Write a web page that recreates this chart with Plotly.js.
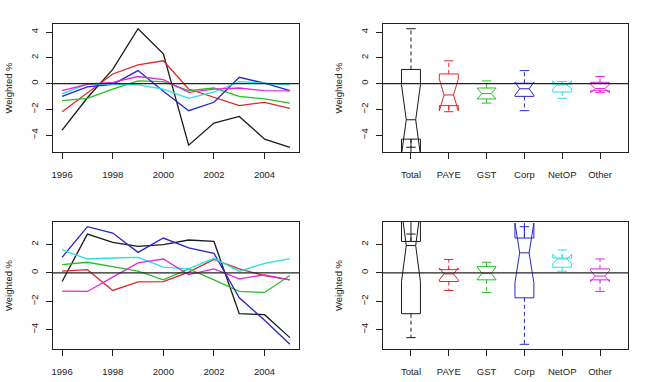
<!DOCTYPE html>
<html>
<head>
<meta charset="utf-8">
<script src="https://cdn.plot.ly/plotly-3.0.1.min.js"></script>
<style>
  html, body { margin: 0; padding: 0; background: #fff; }
  #chart { width: 655px; height: 382px; }
</style>
</head>
<body>
<div id="chart"></div>
<script>
// Years on the line-chart x axis
const years = [1996, 1997, 1998, 1999, 2000, 2001, 2002, 2003, 2004, 2005];
const seriesNames = ['Total', 'PAYE', 'GST', 'Corp', 'NetOP', 'Other'];
const seriesColors = ['#1a1a1a', '#e0262b', '#22c022', '#2626cc', '#26e2e2', '#e026e0'];
const yearTicks = [1996, 1998, 2000, 2002, 2004];

// First period (top row), weighted %
const topTotal = [-3.61, -1.10, 1.10, 4.26, 2.31, -4.78, -3.06, -2.55, -4.31, -4.94];
const topPAYE  = [-2.18, -0.70, 0.75, 1.45, 1.77, -0.42, -1.06, -1.71, -1.45, -1.92];
const topGST   = [-1.32, -1.14, -0.42, 0.21, 0.16, -0.55, -0.34, -0.99, -1.19, -1.51];
const topCorp  = [-0.99, -0.25, -0.05, 1.01, -0.60, -2.10, -1.45, 0.49, 0.03, -0.55];
const topNetOP = [-0.80, -0.05, -0.03, -0.10, -0.42, -1.14, -0.65, 0.16, 0.03, -0.10];
const topOther = [-0.55, -0.05, 0.10, 0.55, 0.31, -0.68, -0.42, -0.34, -0.55, -0.57];

// Second period (bottom row), weighted %
const botTotal = [-0.61, 2.74, 2.15, 1.87, 1.99, 2.32, 2.22, -2.88, -2.95, -4.57];
const botPAYE  = [0.12, 0.23, -1.24, -0.63, -0.61, 0.05, 0.95, 0.28, -0.19, -0.49];
const botGST   = [0.59, 0.75, 0.44, 0.12, -0.49, 0.28, -0.49, -1.31, -1.38, -0.19];
const botCorp  = [1.10, 3.26, 2.81, 1.45, 2.46, 1.76, 1.38, -1.76, -3.35, -5.04];
const botNetOP = [1.62, 0.98, 1.05, 1.10, 0.40, 0.28, 1.03, 0.12, 0.68, 1.00];
const botOther = [-1.29, -1.31, -0.30, 0.70, 0.98, -0.12, 0.28, -0.42, -0.14, -0.49];

const topRows = [topTotal, topPAYE, topGST, topCorp, topNetOP, topOther];
const botRows = [botTotal, botPAYE, botGST, botCorp, botNetOP, botOther];

const FONT = 'Liberation Sans, Arial, Helvetica, sans-serif';
const INK = '#222';

// Axis range padded by 4% on each side
function padRange(lo, hi) {
  const d = (hi - lo) * 0.04;
  return [lo - d, hi + d];
}
function dataRange(rows) {
  let lo = Infinity, hi = -Infinity;
  rows.forEach(r => r.forEach(v => { lo = Math.min(lo, v); hi = Math.max(hi, v); }));
  return padRange(lo, hi);
}

// Tukey five-number summary
function fivenum(v) {
  const x = v.slice().sort((a, b) => a - b);
  const n = x.length;
  const n4 = Math.floor((n + 3) / 2) / 2;
  const d = [1, n4, (n + 1) / 2, n + 1 - n4, n];
  return d.map(k => 0.5 * (x[Math.floor(k) - 1] + x[Math.ceil(k) - 1]));
}

const traces = [];
const shapes = [];

function addLines(rows, xa, ya) {
  rows.forEach((r, i) => {
    traces.push({
      type: 'scatter', mode: 'lines', x: years, y: r,
      line: { color: seriesColors[i], width: 1.3 },
      xaxis: xa, yaxis: ya, showlegend: false, hoverinfo: 'skip'
    });
  });
}

function addBoxes(rows, xa, ya) {
  rows.forEach((r, i) => {
    const pos = i + 1;
    const s = fivenum(r);
    const iqr = s[3] - s[1];
    const inside = r.filter(v => v >= s[1] - 1.5 * iqr && v <= s[3] + 1.5 * iqr);
    const lo = Math.min(...inside);
    const hi = Math.max(...inside);
    const col = seriesColors[i];
    // notched box; whiskers are drawn separately as dashed segments
    traces.push({
      type: 'box', x: [pos], q1: [s[1]], median: [s[2]], q3: [s[3]],
      lowerfence: [s[1]], upperfence: [s[3]],
      notchspan: [1.58 * iqr / Math.sqrt(r.length)],
      notched: true, notchwidth: 0.25, width: 0.5, whiskerwidth: 0,
      boxpoints: false, line: { color: col, width: 1 },
      fillcolor: 'rgba(0,0,0,0)',
      xaxis: xa, yaxis: ya, showlegend: false, hoverinfo: 'skip'
    });
    traces.push({
      type: 'scatter', mode: 'lines',
      x: [pos, pos, null, pos, pos], y: [s[3], hi, null, s[1], lo],
      line: { color: col, width: 1, dash: '4px,3px' },
      xaxis: xa, yaxis: ya, showlegend: false, hoverinfo: 'skip'
    });
    traces.push({
      type: 'scatter', mode: 'lines',
      x: [pos - 0.125, pos + 0.125, null, pos - 0.125, pos + 0.125],
      y: [hi, hi, null, lo, lo],
      line: { color: col, width: 1 },
      xaxis: xa, yaxis: ya, showlegend: false, hoverinfo: 'skip'
    });
  });
}

addLines(topRows, 'x', 'y');
addBoxes(topRows, 'x2', 'y2');
addLines(botRows, 'x3', 'y3');
addBoxes(botRows, 'x4', 'y4');

// Horizontal reference line at zero in every panel
[['x', 'y'], ['x2', 'y2'], ['x3', 'y3'], ['x4', 'y4']].forEach(([xa, ya]) => {
  shapes.push({
    type: 'line', xref: xa + ' domain', yref: ya, x0: 0, x1: 1, y0: 0, y1: 0,
    line: { color: INK, width: 1.2 }
  });
});

const axisBase = {
  showline: true, mirror: true, linecolor: INK, linewidth: 1,
  ticks: 'outside', ticklen: 6, tickwidth: 1, tickcolor: INK,
  showgrid: false, zeroline: false, fixedrange: true,
  tickfont: { family: FONT, size: 9.5, color: INK }
};

function xAxis(domain, anchor, extra) {
  return Object.assign({}, axisBase, { domain: domain, anchor: anchor, ticklabelstandoff: 8 }, extra);
}
function yAxis(domain, anchor, range) {
  return Object.assign({}, axisBase, {
    domain: domain, anchor: anchor, range: range,
    tickmode: 'linear', tick0: 0, dtick: 2, tickangle: -90, ticklabelstandoff: 4,
    title: { text: 'Weighted %', font: { family: FONT, size: 9.5, color: INK }, standoff: 14 }
  });
}

const W = 655, H = 382;
const leftDom = [53 / W, 299 / W];
const rightDom = [383 / W, 628 / W];
const topDom = [1 - 152 / H, 1 - 24 / H];
const botDom = [1 - 349 / H, 1 - 222 / H];

const yearRange = padRange(years[0], years[years.length - 1]);
const catRange = padRange(0.5, seriesNames.length + 0.5);
const topRange = dataRange(topRows);
const botRange = dataRange(botRows);

const catAxis = {
  range: catRange, tickmode: 'array',
  tickvals: seriesNames.map((_, i) => i + 1), ticktext: seriesNames
};
const yearAxis = { range: yearRange, tickmode: 'array', tickvals: yearTicks };

const layout = {
  width: W, height: H,
  margin: { l: 0, r: 0, t: 0, b: 0 },
  paper_bgcolor: '#fff', plot_bgcolor: '#fff',
  font: { family: FONT, size: 9.5, color: INK },
  showlegend: false,
  xaxis:  xAxis(leftDom, 'y', yearAxis),
  yaxis:  yAxis(topDom, 'x', topRange),
  xaxis2: xAxis(rightDom, 'y2', catAxis),
  yaxis2: yAxis(topDom, 'x2', topRange),
  xaxis3: xAxis(leftDom, 'y3', yearAxis),
  yaxis3: yAxis(botDom, 'x3', botRange),
  xaxis4: xAxis(rightDom, 'y4', catAxis),
  yaxis4: yAxis(botDom, 'x4', botRange),
  shapes: shapes
};

Plotly.newPlot('chart', traces, layout, { displayModeBar: false, staticPlot: true });
</script>
</body>
</html>
